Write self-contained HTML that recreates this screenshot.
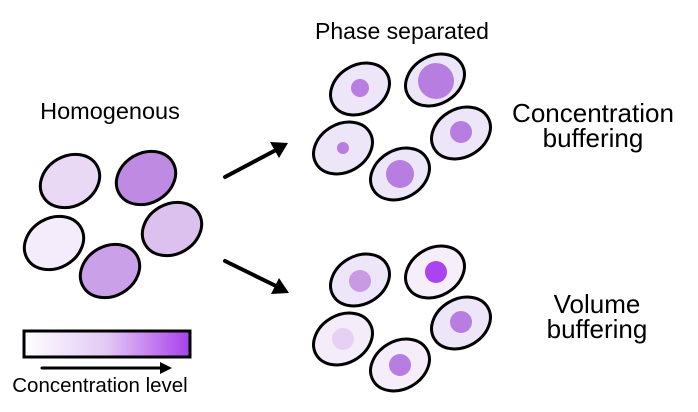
<!DOCTYPE html>
<html><head><meta charset="utf-8"><style>html,body{margin:0;padding:0;background:#fff}svg{display:block}</style></head>
<body>
<svg width="698" height="412" viewBox="0 0 698 412" xmlns="http://www.w3.org/2000/svg" font-family="Liberation Sans, Arial, sans-serif">
<defs>
<linearGradient id="g" x1="0" x2="1" y1="0" y2="0">
<stop offset="0" stop-color="#ffffff"/><stop offset="0.5" stop-color="#e2c8f4"/><stop offset="1" stop-color="#a940ea"/>
</linearGradient>
</defs>
<text x="110" y="119" font-size="23.5" text-anchor="middle">Homogenous</text>
<text x="402" y="39" font-size="23" text-anchor="middle">Phase separated</text>
<text x="593" y="122" font-size="26" text-anchor="middle">Concentration</text>
<text x="593" y="147" font-size="26" text-anchor="middle">buffering</text>
<text x="597" y="313" font-size="26" text-anchor="middle">Volume</text>
<text x="597" y="338" font-size="26" text-anchor="middle">buffering</text>
<g stroke="#000" stroke-width="3">
<ellipse cx="70" cy="181" rx="31" ry="25" transform="rotate(-30 70 181)" fill="#e9d9f5"/>
<ellipse cx="146" cy="178" rx="31" ry="25" transform="rotate(-30 146 178)" fill="#bf8ae2"/>
<ellipse cx="54" cy="243" rx="31" ry="25" transform="rotate(-30 54 243)" fill="#f4ecfa"/>
<ellipse cx="172" cy="229" rx="31" ry="25" transform="rotate(-30 172 229)" fill="#dcc0ee"/>
<ellipse cx="110" cy="271" rx="31" ry="25" transform="rotate(-30 110 271)" fill="#caa0e8"/>

<ellipse cx="360" cy="89" rx="31" ry="24" transform="rotate(-30 360 89)" fill="#ede6f8"/>
<ellipse cx="435" cy="80" rx="31" ry="24" transform="rotate(-30 435 80)" fill="#ede6f8"/>
<ellipse cx="343" cy="148" rx="31" ry="24" transform="rotate(-30 343 148)" fill="#ede6f8"/>
<ellipse cx="461" cy="133" rx="31" ry="24" transform="rotate(-30 461 133)" fill="#ede6f8"/>
<ellipse cx="400" cy="174" rx="31" ry="24" transform="rotate(-30 400 174)" fill="#ede6f8"/>

<ellipse cx="360" cy="280" rx="31" ry="24" transform="rotate(-30 360 280)" fill="#ede6f8"/>
<ellipse cx="435" cy="272" rx="31" ry="24" transform="rotate(-30 435 272)" fill="#f6eefb"/>
<ellipse cx="343" cy="339" rx="31" ry="24" transform="rotate(-30 343 339)" fill="#f5ecfa"/>
<ellipse cx="461" cy="323" rx="31" ry="24" transform="rotate(-30 461 323)" fill="#ede6f8"/>
<ellipse cx="400" cy="365" rx="31" ry="24" transform="rotate(-30 400 365)" fill="#f5eefa"/>
<rect x="24" y="331" width="166" height="26" fill="url(#g)"/>
</g>
<g fill="#b87de0">
<circle cx="360" cy="88" r="9"/><circle cx="436" cy="81" r="18"/><circle cx="343" cy="148" r="6"/><circle cx="461" cy="132" r="11"/><circle cx="400" cy="174" r="14"/>
<circle cx="360" cy="281" r="11" fill="#c89ae4"/><circle cx="436" cy="272" r="11" fill="#aa44ee"/><circle cx="343" cy="339" r="11" fill="#e6d0f3"/><circle cx="461" cy="322" r="11"/><circle cx="400" cy="365" r="11"/>
</g>
<g stroke="#000" stroke-width="4" stroke-linecap="round">
<line x1="225" y1="177" x2="276" y2="150"/>
<line x1="225" y1="261" x2="276" y2="286"/>
<line x1="42" y1="368" x2="160" y2="368" stroke-width="3"/>
</g>
<polygon points="288,143 270,142 279,158" fill="#000"/>
<polygon points="289,293 279,278 271,294" fill="#000"/>
<polygon points="172,368 160,362 160,374" fill="#000"/>
<text x="100" y="392" font-size="20.5" text-anchor="middle">Concentration level</text>
</svg>
</body></html>
